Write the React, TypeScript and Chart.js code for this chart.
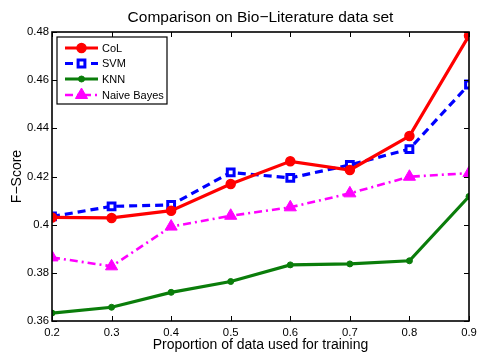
import { useEffect, useRef } from "react";
import { Chart, registerables } from "chart.js";

Chart.register(...registerables);

const xValues = [0.2, 0.3, 0.4, 0.5, 0.6, 0.7, 0.8, 0.9];
const colScores = [0.403, 0.4028, 0.4058, 0.4169, 0.4263, 0.4227, 0.4368, 0.4785];
const svmScores = [0.4034, 0.4076, 0.4082, 0.4217, 0.4194, 0.4248, 0.4314, 0.4582];
const knnScores = [0.3633, 0.3657, 0.3719, 0.3764, 0.3833, 0.3837, 0.385, 0.4117];
const nbScores = [0.3864, 0.3827, 0.3992, 0.4037, 0.4072, 0.413, 0.4199, 0.4214];
const seriesNames = ["CoL", "SVM", "KNN", "Naive Bayes"];
const titleText = "Comparison on Bio\u2212Literature data set";
const xTitle = "Proportion of data used for training";
const yTitle = "F\u2212Score";

const FONT = "'Liberation Sans', Arial, Helvetica, sans-serif";

const toPoints = (ys: number[]) => xValues.map((x, i) => ({ x, y: ys[i] }));

function drawMarker(ctx: CanvasRenderingContext2D, ds: any, x: number, y: number) {
  const r = ds.pointRadius;
  ctx.save();
  ctx.fillStyle = ds.pointBackgroundColor;
  ctx.strokeStyle = ds.pointBorderColor;
  ctx.lineWidth = ds.pointBorderWidth;
  ctx.setLineDash([]);
  ctx.beginPath();
  if (ds.pointStyle === "rect") {
    const h = Math.SQRT1_2 * r;
    ctx.rect(x - h, y - h, 2 * h, 2 * h);
  } else if (ds.pointStyle === "triangle") {
    const a0 = -Math.PI / 2;
    for (let k = 0; k < 3; k++) {
      const a = a0 + (k * 2 * Math.PI) / 3;
      const px = x + r * Math.cos(a);
      const py = y + r * Math.sin(a);
      if (k === 0) ctx.moveTo(px, py);
      else ctx.lineTo(px, py);
    }
    ctx.closePath();
  } else {
    ctx.arc(x, y, r, 0, Math.PI * 2);
  }
  ctx.fill();
  if (ds.pointBorderWidth > 0) ctx.stroke();
  ctx.restore();
}

const framePlugin = {
  id: "matlabFrame",
  afterDatasetsDraw(chart: any) {
    const { ctx, chartArea } = chart;
    const { left, right, top, bottom } = chartArea;
    const xs = chart.scales.x;
    const ys = chart.scales.y;
    ctx.save();
    ctx.strokeStyle = "#000";
    ctx.lineWidth = 1.6;
    ctx.strokeRect(left, top, right - left, bottom - top);
    ctx.lineWidth = 1;
    const tl = 5;
    ctx.beginPath();
    xs.ticks.forEach((t: any) => {
      const px = Math.round(xs.getPixelForValue(t.value)) + 0.5;
      ctx.moveTo(px, bottom);
      ctx.lineTo(px, bottom - tl);
      ctx.moveTo(px, top);
      ctx.lineTo(px, top + tl);
    });
    ys.ticks.forEach((t: any) => {
      const py = Math.round(ys.getPixelForValue(t.value)) + 0.5;
      ctx.moveTo(left, py);
      ctx.lineTo(left + tl, py);
      ctx.moveTo(right, py);
      ctx.lineTo(right - tl, py);
    });
    ctx.stroke();

    ctx.fillStyle = "#000";
    ctx.font = `15.5px ${FONT}`;
    ctx.textAlign = "center";
    ctx.textBaseline = "middle";
    ctx.fillText(titleText, (left + right) / 2, 18);

    const bx = left + 5;
    const by = top + 5;
    const bw = 110;
    const bh = 67;
    ctx.fillStyle = "#fff";
    ctx.fillRect(bx, by, bw, bh);
    ctx.strokeStyle = "#000";
    ctx.lineWidth = 1.2;
    ctx.strokeRect(bx, by, bw, bh);
    const rowsY = [by + 11, by + 26.5, by + 42, by + 58];
    chart.data.datasets.forEach((ds: any, i: number) => {
      const y = rowsY[i];
      const x0 = bx + 8;
      const x1 = bx + 41;
      ctx.save();
      ctx.strokeStyle = ds.borderColor;
      ctx.lineWidth = ds.borderWidth;
      ctx.setLineDash(ds.borderDash || []);
      ctx.beginPath();
      ctx.moveTo(x0, y);
      ctx.lineTo(x1, y);
      ctx.stroke();
      ctx.restore();
      drawMarker(ctx, ds, (x0 + x1) / 2, y);
      ctx.fillStyle = "#000";
      ctx.font = `11px ${FONT}`;
      ctx.textAlign = "left";
      ctx.textBaseline = "middle";
      ctx.fillText(seriesNames[i], x1 + 4, y + 0.5);
    });
    ctx.restore();
  },
};

export default function App() {
  const ref = useRef<HTMLCanvasElement | null>(null);

  useEffect(() => {
    document.body.style.margin = "0";
    const canvas = ref.current;
    if (!canvas) return;
    const fmt = (v: any) => String(Number(Number(v).toFixed(2)));
    const chart = new Chart(canvas, {
      type: "line",
      data: {
        datasets: [
          {
            label: seriesNames[0],
            data: toPoints(colScores),
            borderColor: "#ff0000",
            backgroundColor: "#ff0000",
            pointBackgroundColor: "#ff0000",
            pointBorderColor: "#ff0000",
            borderWidth: 3.2,
            pointStyle: "circle",
            pointRadius: 4.5,
            pointBorderWidth: 1.5,
          },
          {
            label: seriesNames[1],
            data: toPoints(svmScores),
            borderColor: "#0000ff",
            backgroundColor: "#0000ff",
            pointBackgroundColor: "#ffffff",
            pointBorderColor: "#0000ff",
            borderWidth: 3.2,
            borderDash: [8, 5],
            pointStyle: "rect",
            pointRadius: 4.8,
            pointBorderWidth: 3,
          },
          {
            label: seriesNames[2],
            data: toPoints(knnScores),
            borderColor: "#0a7d0a",
            backgroundColor: "#0a7d0a",
            pointBackgroundColor: "#0a7d0a",
            pointBorderColor: "#0a7d0a",
            borderWidth: 3.2,
            pointStyle: "circle",
            pointRadius: 3,
            pointBorderWidth: 1,
          },
          {
            label: seriesNames[3],
            data: toPoints(nbScores),
            borderColor: "#ff00ff",
            backgroundColor: "#ff00ff",
            pointBackgroundColor: "#ff00ff",
            pointBorderColor: "#ff00ff",
            borderWidth: 2.6,
            borderDash: [8, 4, 2, 4],
            pointStyle: "triangle",
            pointRadius: 7,
            pointBorderWidth: 1,
          },
        ] as any,
      },
      options: {
        animation: false,
        responsive: false,
        devicePixelRatio: 1,
        layout: { padding: { top: 32, right: 6, left: 0, bottom: 0 } },
        plugins: {
          legend: { display: false },
          title: { display: false },
          tooltip: { enabled: false },
        },
        elements: { line: { tension: 0 } },
        scales: {
          x: {
            type: "linear",
            min: 0.2,
            max: 0.9,
            grid: { display: false, drawTicks: false },
            border: { display: false },
            ticks: {
              stepSize: 0.1,
              padding: 5,
              color: "#000",
              font: { family: FONT, size: 11.3 },
              maxRotation: 0,
              callback: fmt,
            },
            title: {
              display: true,
              text: xTitle,
              color: "#000",
              font: { family: FONT, size: 14 },
              padding: { top: 0, bottom: 0 },
            },
            afterFit: (s: any) => {
              s.height = 33;
              s.paddingLeft = 0;
              s.paddingRight = 0;
            },
          },
          y: {
            type: "linear",
            min: 0.36,
            max: 0.48,
            grid: { display: false, drawTicks: false },
            border: { display: false },
            ticks: {
              stepSize: 0.02,
              padding: 3,
              color: "#000",
              font: { family: FONT, size: 11.3 },
              callback: fmt,
            },
            title: {
              display: true,
              text: yTitle,
              color: "#000",
              font: { family: FONT, size: 14 },
              padding: { top: 9, bottom: 0 },
            },
            afterFit: (s: any) => {
              s.width = 52;
              s.paddingTop = 0;
              s.paddingBottom = 0;
            },
          },
        },
      } as any,
      plugins: [framePlugin],
    });
    return () => chart.destroy();
  }, []);

  return (
    <div style={{ position: "absolute", left: 0, top: 0, width: 477, height: 354, background: "#fff" }}>
      <canvas ref={ref} width={477} height={354} style={{ width: 477, height: 354, display: "block" }} />
    </div>
  );
}
